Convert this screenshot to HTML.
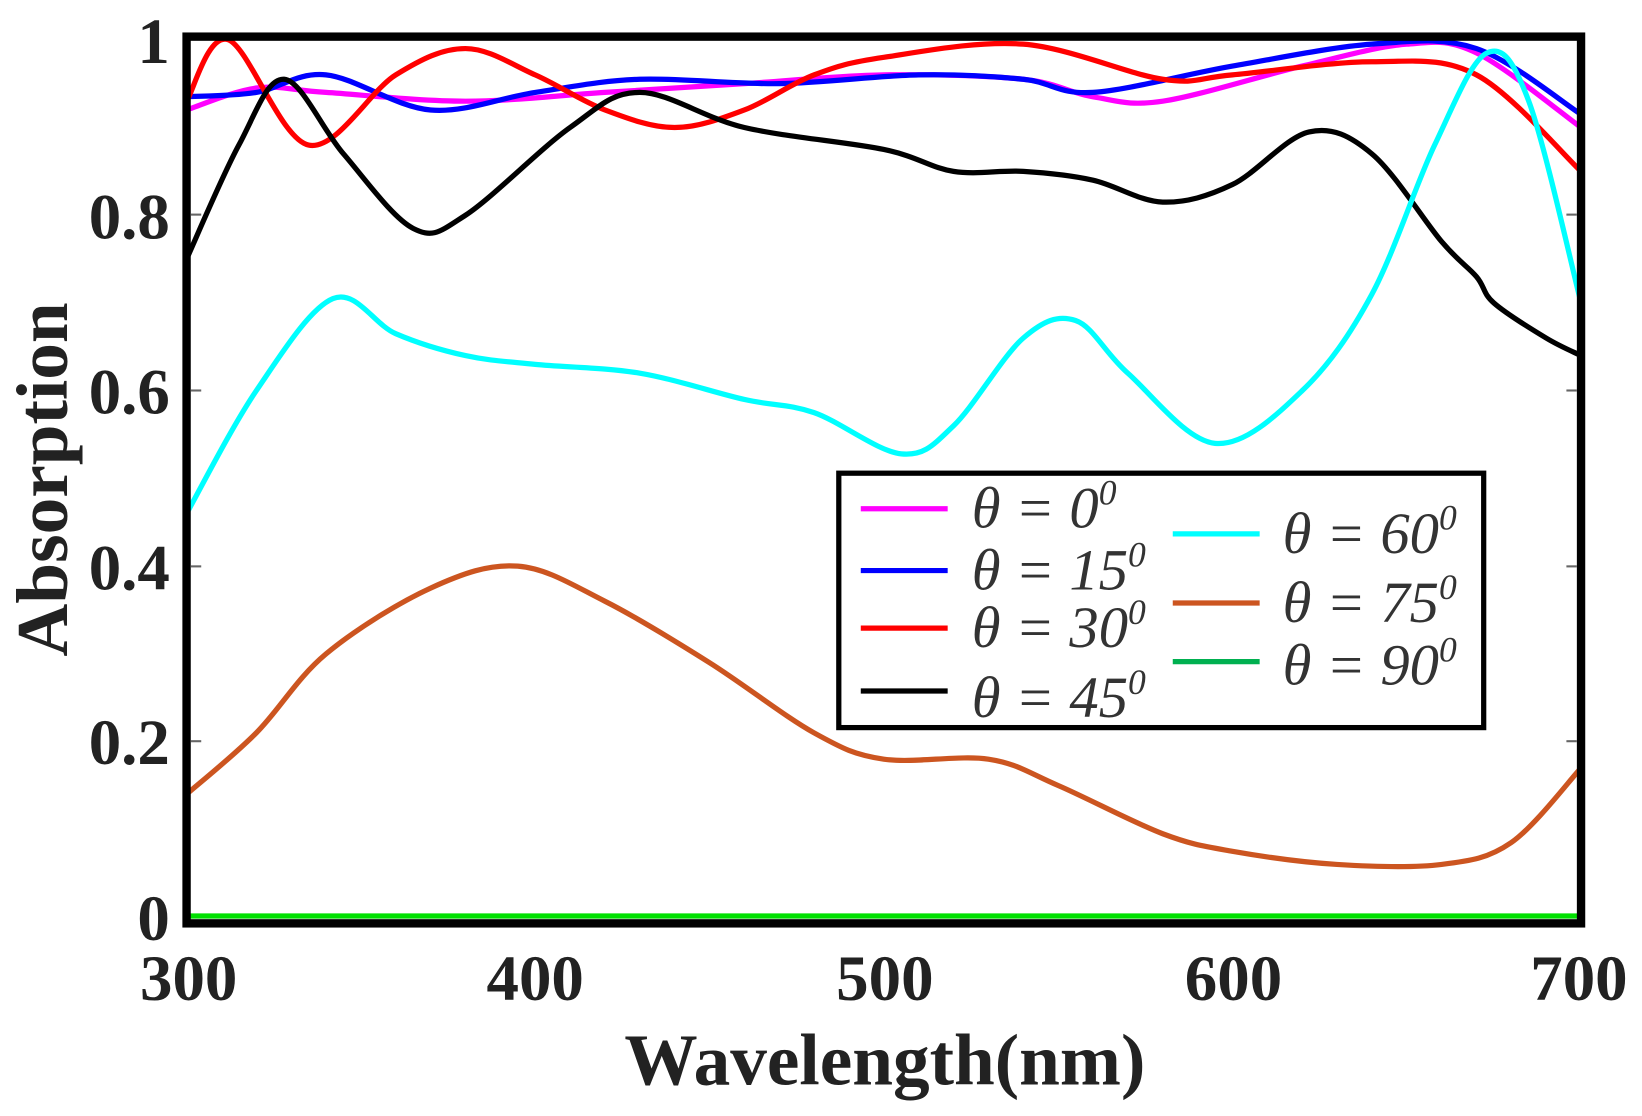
<!DOCTYPE html>
<html><head><meta charset="utf-8"><style>
html,body{margin:0;padding:0;background:#fff;}
svg{display:block;}
.t{font-family:"Liberation Serif",serif;font-weight:bold;fill:#222;}
.l{font-family:"Liberation Serif",serif;font-style:italic;fill:#333;font-size:56px;}
</style></head><body>
<svg id="s" width="1642" height="1116" viewBox="0 0 1568 1066" xmlns="http://www.w3.org/2000/svg">
<g id="curves" fill="none" stroke-width="5" stroke-linejoin="round" stroke-linecap="round"></g>
<line x1="180" y1="875" x2="1508" y2="875" stroke="#00e000" stroke-width="5"/>
<rect x="178" y="35" width="1332" height="847" fill="none" stroke="#000" stroke-width="8"/>
<g class="t" font-size="62" text-anchor="end">
<text x="162" y="60">1</text><text x="162" y="228">0.8</text><text x="162" y="395">0.6</text>
<text x="162" y="563">0.4</text><text x="162" y="730">0.2</text><text x="162" y="898">0</text>
</g>
<g stroke="#666" stroke-width="2"><line x1="182" y1="205" x2="192" y2="205"/><line x1="182" y1="373" x2="192" y2="373"/><line x1="182" y1="541" x2="192" y2="541"/><line x1="182" y1="708" x2="192" y2="708"/>
<line x1="1496" y1="205" x2="1506" y2="205"/><line x1="1496" y1="373" x2="1506" y2="373"/><line x1="1496" y1="541" x2="1506" y2="541"/><line x1="1496" y1="708" x2="1506" y2="708"/></g>
<g class="t" font-size="62" text-anchor="middle">
<text x="180" y="955">300</text><text x="511" y="955">400</text><text x="845" y="955">500</text><text x="1178" y="955">600</text><text x="1508" y="955">700</text>
</g>
<text class="t" font-size="70" x="845" y="1036" text-anchor="middle">Wavelength(nm)</text>
<text class="t" font-size="70" transform="translate(64,458) rotate(-90)" text-anchor="middle">Absorption</text>
<rect x="801" y="452" width="616" height="243" fill="#fff" stroke="#000" stroke-width="5"/>
<g stroke-width="5">
<line x1="822" y1="486" x2="905" y2="486" stroke="#ff00ff"/>
<line x1="822" y1="545" x2="905" y2="545" stroke="#0000ff"/>
<line x1="822" y1="600" x2="905" y2="600" stroke="#ff0000"/>
<line x1="822" y1="660" x2="905" y2="660" stroke="#000"/>
<line x1="1120" y1="510" x2="1203" y2="510" stroke="#00ffff"/>
<line x1="1120" y1="576" x2="1203" y2="576" stroke="#cc5520"/>
<line x1="1120" y1="632" x2="1203" y2="632" stroke="#00b050"/>
</g>
<g class="l">
<text x="928" y="504">θ = 0<tspan font-size="34" dy="-22">0</tspan></text>
<text x="928" y="563">θ = 15<tspan font-size="34" dy="-22">0</tspan></text>
<text x="928" y="618">θ = 30<tspan font-size="34" dy="-22">0</tspan></text>
<text x="928" y="685">θ = 45<tspan font-size="34" dy="-22">0</tspan></text>
<text x="1225" y="528">θ = 60<tspan font-size="34" dy="-22">0</tspan></text>
<text x="1225" y="594">θ = 75<tspan font-size="34" dy="-22">0</tspan></text>
<text x="1225" y="654">θ = 90<tspan font-size="34" dy="-22">0</tspan></text>
</g>
</svg>
<script>
var S={
"#ff00ff":[[300,.92],[320,.945],[340,.94],[380,.93],[420,.94],[460,.95],[500,.96],[540,.955],[560,.935],[580,.93],[620,.97],[650,.995],[670,.985],[700,.9]],
"#0000ff":[[300,.935],[320,.94],[340,.96],[370,.92],[400,.94],[430,.955],[470,.95],[510,.96],[540,.955],[560,.94],[600,.97],[640,.995],[670,.99],[700,.915]],
"#ff0000":[[300,.93],[312,1.0],[335,.88],[360,.96],[380,.99],[400,.96],[420,.92],[440,.9],[460,.92],[480,.96],[500,.98],[540,.995],[580,.955],[600,.96],[640,.975],[670,.96],[700,.85]],
"#000000":[[300,.75],[315,.88],[328,.955],[345,.87],[365,.785],[380,.8],[410,.9],[430,.94],[460,.9],[500,.875],[520,.85],[540,.85],[560,.84],[580,.815],[600,.835],[622,.895],[640,.87],[660,.77],[670,.73],[675,.7],[690,.66],[700,.64]],
"#00ffff":[[300,.46],[320,.6],[342,.705],[360,.665],[380,.64],[400,.63],[430,.62],[460,.59],[480,.575],[505,.528],[520,.56],[540,.66],[555,.68],[570,.62],[595,.54],[620,.6],[640,.71],[658,.88],[673,.985],[685,.93],[700,.7]],
"#cc5520":[[300,.14],[320,.21],[340,.3],[370,.375],[395,.4],[420,.36],[450,.29],[480,.21],[500,.18],[530,.18],[550,.15],[580,.095],[600,.075],[630,.06],[660,.06],[680,.085],[700,.17]]
};
function X(n){return 178+(n-300)*3.33;}function Y(v){return 876-v*838;}
var g=document.getElementById('curves'),ns="http://www.w3.org/2000/svg";
for(var c in S){var p=S[c].map(function(a){return [X(a[0]),Y(a[1])];});
var d="M"+p[0][0]+","+p[0][1];
for(var i=0;i<p.length-1;i++){var p0=p[i-1]||p[i],p1=p[i],p2=p[i+1],p3=p[i+2]||p2;
d+=" C"+(p1[0]+(p2[0]-p0[0])/6)+","+(p1[1]+(p2[1]-p0[1])/6)+" "+(p2[0]-(p3[0]-p1[0])/6)+","+(p2[1]-(p3[1]-p1[1])/6)+" "+p2[0]+","+p2[1];}
var e=document.createElementNS(ns,"path");e.setAttribute("d",d);e.setAttribute("stroke",c);g.appendChild(e);}
</script>
</body></html>
